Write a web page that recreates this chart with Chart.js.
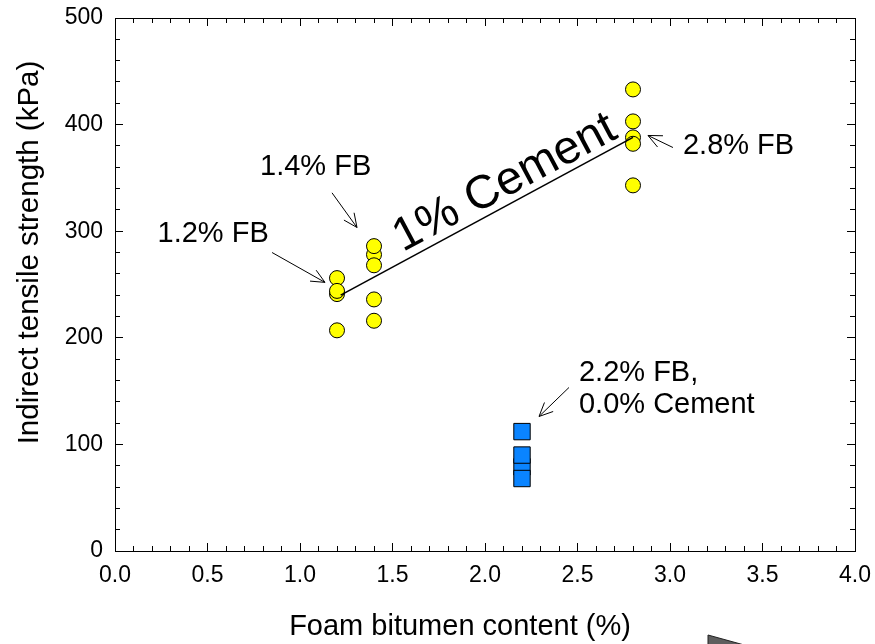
<!DOCTYPE html>
<html>
<head>
<meta charset="utf-8">
<script src="https://cdn.jsdelivr.net/npm/chart.js@4/dist/chart.umd.min.js"></script>
<style>
  html, body { margin: 0; padding: 0; background: #fff; }
  #wrap { width: 875px; height: 644px; position: relative; }
</style>
</head>
<body>
<div id="wrap"><canvas id="its"></canvas></div>
<script>
const FONT = '"Liberation Sans", Arial, Helvetica, sans-serif';

// Specimens stabilised with 1% cement: foam bitumen content (%) and ITS (kPa)
const cementFB  = [1.2, 1.2, 1.2, 1.2, 1.4, 1.4, 1.4, 1.4, 1.4, 2.8, 2.8, 2.8, 2.8, 2.8];
const cementITS = [256, 241, 244, 207, 278, 286, 268, 236, 216, 433, 403, 388, 382, 343];

// Specimens without cement
const plainFB  = [2.2, 2.2, 2.2, 2.2];
const plainITS = [112, 79, 90, 68];

// Trend line through the cement-stabilised mixes
const trendFB  = [1.22, 2.8];
const trendITS = [240, 388];

// Axis tick values
const xMajorTicks = [0, 0.5, 1.0, 1.5, 2.0, 2.5, 3.0, 3.5, 4.0];
const yMajorTicks = [0, 100, 200, 300, 400, 500];

// Callout labels and their arrows (anchored in data units)
const calloutText = ['1.2% FB', '1.4% FB', '2.8% FB', '2.2% FB,', '0.0% Cement'];
const calloutAt   = [[0.23, 297], [0.784, 360], [3.07, 380], [2.508, 167], [2.508, 137]];
const arrowFrom   = [[0.849, 280], [1.173, 336], [3.016, 378.5], [2.454, 153.4]];
const arrowTo     = [[1.135, 252], [1.308, 303.5], [2.881, 389.8], [2.292, 126.2]];
const trendLabel  = '1% Cement';
const trendLabelAt = [2.108, 345];

const xTitle = 'Foam bitumen content (%)';
const yTitle = 'Indirect tensile strength (kPa)';

const toPoints = (xs, ys) => xs.map((v, i) => ({ x: v, y: ys[i] }));

function arrow(ctx, x1, y1, x2, y2) {
  const a = Math.atan2(y2 - y1, x2 - x1);
  const len = 15, spread = 0.43;
  ctx.beginPath();
  ctx.moveTo(x1, y1);
  ctx.lineTo(x2, y2);
  ctx.moveTo(x2 - len * Math.cos(a - spread), y2 - len * Math.sin(a - spread));
  ctx.lineTo(x2, y2);
  ctx.lineTo(x2 - len * Math.cos(a + spread), y2 - len * Math.sin(a + spread));
  ctx.stroke();
}

const calloutPlugin = {
  id: 'callouts',
  afterDatasetsDraw(chart) {
    const { ctx, scales: { x, y } } = chart;
    ctx.save();
    ctx.fillStyle = '#000';
    ctx.strokeStyle = '#000';
    ctx.lineWidth = 1;
    ctx.font = '29px ' + FONT;
    ctx.textAlign = 'left';
    ctx.textBaseline = 'middle';
    calloutText.forEach((t, i) => {
      ctx.fillText(t, x.getPixelForValue(calloutAt[i][0]), y.getPixelForValue(calloutAt[i][1]));
    });
    arrowFrom.forEach((p, i) => {
      arrow(ctx, x.getPixelForValue(p[0]), y.getPixelForValue(p[1]),
                 x.getPixelForValue(arrowTo[i][0]), y.getPixelForValue(arrowTo[i][1]));
    });
    ctx.translate(x.getPixelForValue(trendLabelAt[0]), y.getPixelForValue(trendLabelAt[1]));
    ctx.rotate(-28 * Math.PI / 180);
    ctx.font = '47px ' + FONT;
    ctx.textAlign = 'center';
    ctx.fillText(trendLabel, 0, 0);
    ctx.restore();
  },
  afterDraw(chart) {
    const { ctx, chartArea: ca } = chart;
    ctx.save();
    ctx.fillStyle = '#000';
    ctx.textAlign = 'center';
    ctx.textBaseline = 'middle';
    ctx.font = '29px ' + FONT;
    ctx.fillText(xTitle, (ca.left + ca.right) / 2 - 25, ca.bottom + 76);
    ctx.translate(30, (ca.top + ca.bottom) / 2 - 32);
    ctx.rotate(-Math.PI / 2);
    ctx.font = '29.5px ' + FONT;
    ctx.fillText(yTitle, 0, 0);
    ctx.restore();

    // grey pointer shape at the lower right edge
    ctx.save();
    ctx.beginPath();
    ctx.moveTo(ca.left + 593, ca.bottom + 84);
    ctx.lineTo(ca.left + 680, ca.bottom + 108);
    ctx.lineTo(ca.left + 593, ca.bottom + 108);
    ctx.closePath();
    ctx.fillStyle = '#5e5e5e';
    ctx.fill();
    ctx.strokeStyle = '#222';
    ctx.lineWidth = 1;
    ctx.stroke();
    ctx.restore();
  }
};

const black = '#000';
const edgeGrid = len => ({ drawOnChartArea: false, tickLength: len, color: black, tickColor: black, lineWidth: 1 });
const edgeBorder = { display: true, color: black, width: 1 };
// tick labels may overhang the plot edges without shrinking the plot
const noOverhang = s => { s.paddingLeft = 0; s.paddingRight = 0; s.paddingTop = 0; s.paddingBottom = 0; };
const zeroH = s => { s.height = 0; noOverhang(s); };
const zeroW = s => { s.width = 0; noOverhang(s); };

new Chart(document.getElementById('its'), {
  data: {
    datasets: [
      {
        type: 'line',
        label: 'trend',
        data: toPoints(trendFB, trendITS),
        borderColor: black,
        borderWidth: 1.6,
        pointRadius: 0,
        fill: false,
        order: 0
      },
      {
        type: 'scatter',
        label: '1% cement',
        data: toPoints(cementFB, cementITS),
        pointStyle: 'circle',
        pointRadius: 7.5,
        backgroundColor: '#ffff00',
        borderColor: black,
        borderWidth: 1,
        order: 1
      },
      {
        type: 'scatter',
        label: 'no cement',
        data: toPoints(plainFB, plainITS),
        pointStyle: 'rect',
        pointRadius: 11.6,
        backgroundColor: '#0a84ff',
        borderColor: black,
        borderWidth: 1,
        order: 1
      }
    ]
  },
  options: {
    responsive: true,
    maintainAspectRatio: false,
    animation: false,
    events: [],
    layout: { padding: { left: 0, right: 20, top: 18, bottom: 0 } },
    plugins: { legend: { display: false }, tooltip: { enabled: false } },
    scales: {
      x: {
        type: 'linear', position: 'bottom', min: 0, max: 4, weight: 1,
        afterBuildTicks: s => { s.ticks = xMajorTicks.map(v => ({ value: v })); },
        ticks: {
          callback: v => Number(v).toFixed(1),
          font: { family: FONT, size: 23 }, color: black,
          padding: 19, maxRotation: 0, autoSkip: false
        },
        grid: edgeGrid(-8),
        border: edgeBorder,
        afterFit: s => { s.height = 93; noOverhang(s); }
      },
      xMinor: {
        type: 'linear', position: 'bottom', min: 0, max: 4, weight: 0,
        ticks: { display: false, stepSize: 0.1, autoSkip: false },
        grid: edgeGrid(-5), border: edgeBorder, afterFit: zeroH
      },
      xTop: {
        type: 'linear', position: 'top', min: 0, max: 4,
        afterBuildTicks: s => { s.ticks = xMajorTicks.map(v => ({ value: v })); },
        ticks: { display: false },
        grid: edgeGrid(-8), border: edgeBorder, afterFit: zeroH
      },
      xTopMinor: {
        type: 'linear', position: 'top', min: 0, max: 4,
        ticks: { display: false, stepSize: 0.1, autoSkip: false },
        grid: edgeGrid(-5), border: edgeBorder, afterFit: zeroH
      },
      y: {
        type: 'linear', position: 'left', min: 0, max: 500, weight: 1,
        afterBuildTicks: s => { s.ticks = yMajorTicks.map(v => ({ value: v })); },
        ticks: {
          font: { family: FONT, size: 23 }, color: black,
          padding: 20, autoSkip: false
        },
        grid: edgeGrid(-8),
        border: edgeBorder,
        afterFit: s => { s.width = 115; noOverhang(s); }
      },
      yMinor: {
        type: 'linear', position: 'left', min: 0, max: 500, weight: 0,
        ticks: { display: false, stepSize: 20, autoSkip: false },
        grid: edgeGrid(-5), border: edgeBorder, afterFit: zeroW
      },
      yRight: {
        type: 'linear', position: 'right', min: 0, max: 500,
        afterBuildTicks: s => { s.ticks = yMajorTicks.map(v => ({ value: v })); },
        ticks: { display: false },
        grid: edgeGrid(-8), border: edgeBorder, afterFit: zeroW
      },
      yRightMinor: {
        type: 'linear', position: 'right', min: 0, max: 500,
        ticks: { display: false, stepSize: 20, autoSkip: false },
        grid: edgeGrid(-5), border: edgeBorder, afterFit: zeroW
      }
    }
  },
  plugins: [calloutPlugin]
});
</script>
</body>
</html>
